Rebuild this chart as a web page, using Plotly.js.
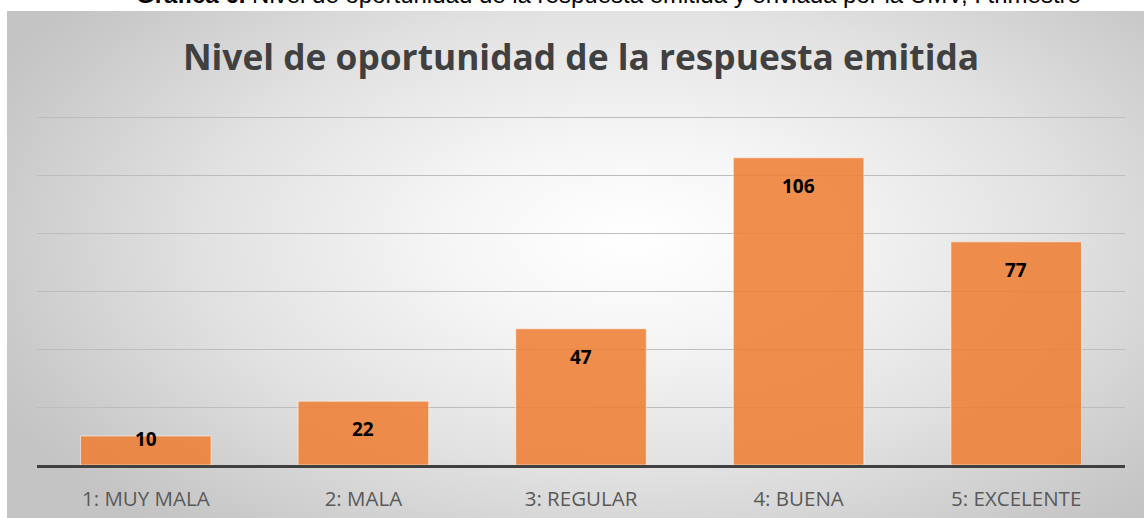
<!DOCTYPE html>
<html>
<head>
<meta charset="utf-8">
<script src="https://cdn.plot.ly/plotly-3.0.1.min.js"></script>
<style>
  html, body { margin: 0; padding: 0; background: #ffffff; width: 1144px; height: 518px; overflow: hidden; }
  #bg { position: absolute; left: 7px; top: 11px; width: 1137px; height: 507px;
        background: radial-gradient(ellipse 62% 75% at 55% 45%, #ffffff 0%, #f6f6f6 25%, #e2e2e2 60%, #cbcbcb 90%, #c4c4c4 100%); }
  #chart { position: absolute; left: 0; top: 0; width: 1144px; height: 518px; }
</style>
</head>
<body>
<div id="bg"></div>
<div id="chart"></div>
<script>
const categories = ["1: MUY MALA", "2: MALA", "3: REGULAR", "4: BUENA", "5: EXCELENTE"];
const values = [10, 22, 47, 106, 77];
const chartTitle = "Nivel de oportunidad de la respuesta emitida";
const captionBold = "Gráfica 6.";
const captionText = " Nivel de oportunidad de la respuesta emitida y enviada por la UMV, I trimestre";

const W = 1144, H = 518;
const margin = { l: 37, r: 19, t: 116, b: 53, pad: 0 };
const yTop = 120.4;
const pxPerUnit = (H - margin.t - margin.b) / yTop;

const labelAnnotations = categories.map((c, i) => ({
  x: c, y: values[i], xref: 'x', yref: 'y',
  text: '<b>' + values[i] + '</b>',
  showarrow: false, yanchor: 'middle',
  yshift: -Math.min(28, values[i] * pxPerUnit - 26),
  font: { family: 'Open Sans', size: 19, color: '#000000' }
}));

const trace = {
  type: 'bar',
  x: categories,
  y: values,
  marker: { color: 'rgba(237,125,49,0.86)', line: { color: 'rgba(255,255,255,0.55)', width: 1 } },
  hoverinfo: 'none'
};

const layout = {
  width: W, height: H,
  margin: margin,
  paper_bgcolor: 'rgba(0,0,0,0)',
  plot_bgcolor: 'rgba(0,0,0,0)',
  bargap: 0.4,
  showlegend: false,
  title: {
    text: '<b>' + chartTitle + '</b>',
    font: { family: 'Open Sans', size: 35.3, color: '#404040' },
    x: 0.5, xref: 'paper', y: 1 - 58 / H, yref: 'container', yanchor: 'middle', xanchor: 'center'
  },
  xaxis: {
    type: 'category',
    showline: true, linecolor: '#404040', linewidth: 3,
    ticks: '', showgrid: false, zeroline: false,
    ticklabelstandoff: 13,
    tickfont: { family: 'Open Sans', size: 20.5, color: '#595959' }
  },
  yaxis: {
    range: [0, yTop], dtick: 20, tick0: 0,
    showticklabels: false, ticks: '',
    showgrid: true, gridcolor: '#bdbdbd', gridwidth: 1,
    zeroline: false, showline: false
  },
  annotations: labelAnnotations.concat([{
    xref: 'paper', yref: 'paper', x: 0.525, y: 1, xanchor: 'center', yanchor: 'bottom',
    yshift: 106, showarrow: false,
    text: '<b>' + captionBold + '</b>' + captionText,
    font: { family: 'Liberation Sans', size: 24, color: '#000000' }
  }])
};

Plotly.newPlot('chart', [trace], layout, { displayModeBar: false, staticPlot: true });
</script>
</body>
</html>
